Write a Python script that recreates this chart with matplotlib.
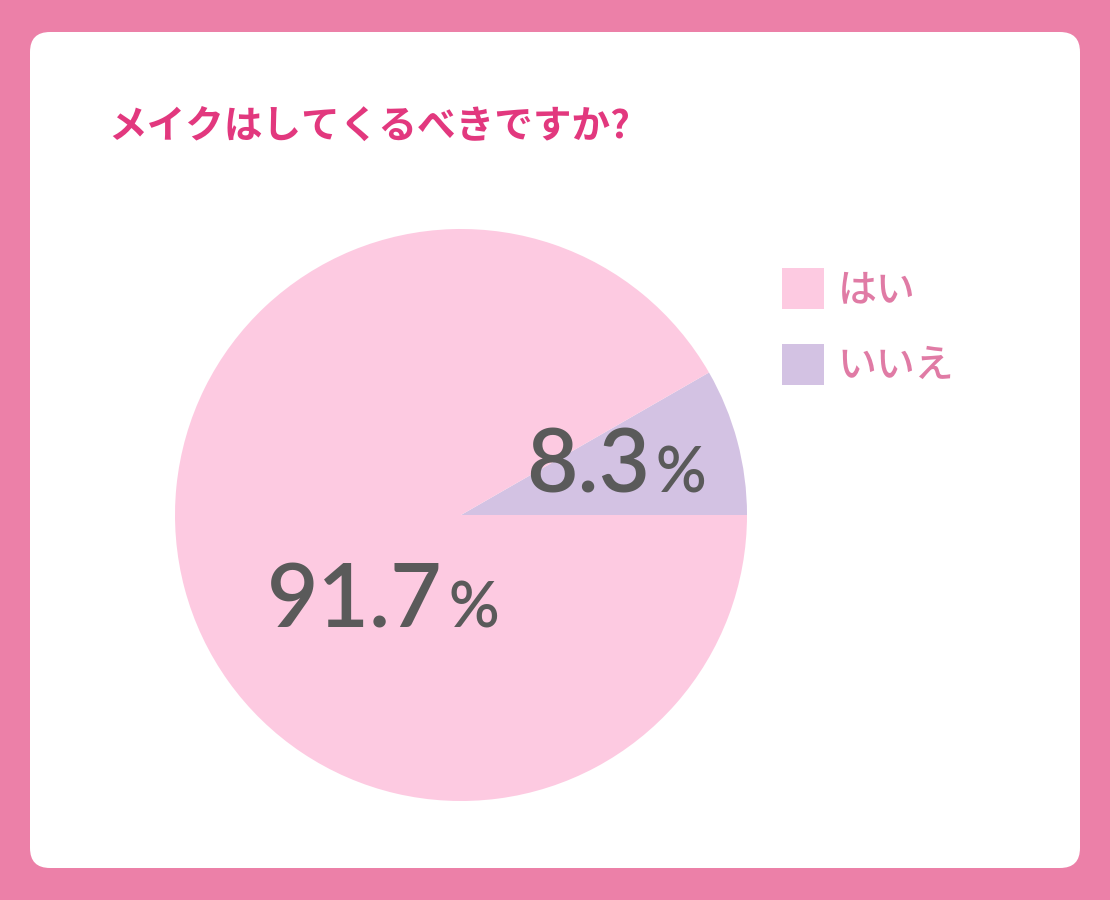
import matplotlib.pyplot as plt
from matplotlib.patches import FancyBboxPatch

plt.rcParams['font.family'] = ['Noto Sans CJK JP', 'DejaVu Sans']

title = 'メイクはしてくるべきですか?'
labels = ['いいえ', 'はい']
values = [8.3, 91.7]
colors = ['#D3C2E3', '#FDCAE1']
legend_order = [1, 0]

W, H = 1110, 900
fig = plt.figure(figsize=(W / 100, H / 100), dpi=100)
fig.patch.set_facecolor('#EC80A8')

# white rounded panel (behind everything)
panel = FancyBboxPatch((30 / W, (H - 868) / H), 1050 / W, 836 / H,
                       boxstyle='round,pad=0,rounding_size=0.018',
                       transform=fig.transFigure, facecolor='white',
                       edgecolor='none', mutation_aspect=W / H, zorder=-5)
fig.patches.append(panel)

fig.text(108 / W, 1 - 127 / H, title, color='#E2387E', fontsize=27.8,
         fontweight='bold', va='center', ha='left')

# pie: center (461, 515), radius 286 px
ax = fig.add_axes([175 / W, (H - 801) / H, 572 / W, 572 / H])
ax.set_facecolor('none')
wedges, _ = ax.pie(values, colors=colors, startangle=0, counterclock=True,
                   radius=1, wedgeprops=dict(linewidth=0))
ax.set_xlim(-1, 1)
ax.set_ylim(-1, 1)
ax.set_aspect('equal')
ax.axis('off')

num_pos = [(0.661, 0.080), (-0.065, -0.395)]
for v, (x, y) in zip(values, num_pos):
    ax.text(x, y, f'{v}', fontsize=64, color='#5A5A5A', family='Lato',
            fontweight='semibold', ha='right', va='baseline')
    ax.text(x + 0.02, y, '%', fontsize=45, color='#5A5A5A', family='Lato',
            fontweight='semibold', ha='left', va='baseline')

leg = fig.legend([wedges[i] for i in legend_order],
                 [labels[i] for i in legend_order],
                 loc='upper left', bbox_to_anchor=(782 / W, 1 - 268 / H),
                 frameon=False, fontsize=28, handlelength=1.08,
                 handleheight=1.25, handletextpad=0.35, labelspacing=0.85,
                 borderpad=0, borderaxespad=0)
for t in leg.get_texts():
    t.set_color('#E07BA5')
    t.set_fontweight('medium')

fig.savefig('out.png', dpi=100, facecolor=fig.get_facecolor())
